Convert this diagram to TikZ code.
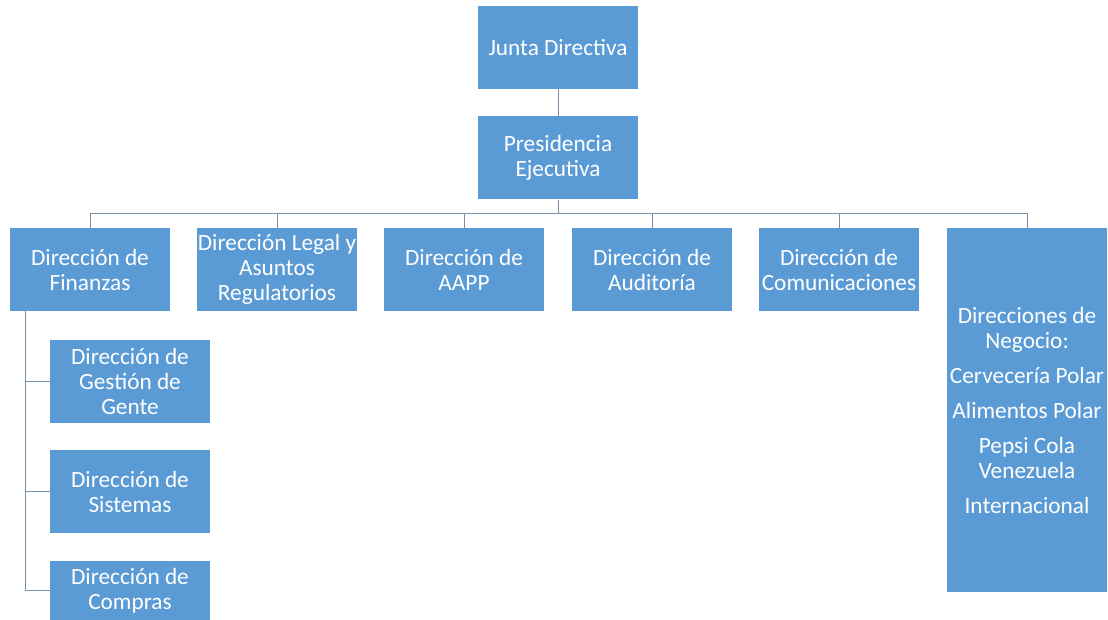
\documentclass[tikz,border=0pt]{standalone}
\usepackage{fontspec}
\setmainfont{Carlito}
\definecolor{boxblue}{HTML}{5B9BD5}
\definecolor{linkblue}{HTML}{7890B0}
\tikzset{
  orgbox/.style={fill=boxblue, text=white, inner sep=0pt, align=center,
    minimum width=160pt, minimum height=83pt, font=\fontsize{23.3}{25}\selectfont},
  link/.style={draw=linkblue, line width=1pt}
}
\begin{document}
\begin{tikzpicture}[x=1pt, y=-1pt]
    \useasboundingbox (0, 0) rectangle (1108, 620);

    \node[orgbox] (junta) at (558, 47.5) {Junta Directiva};
    \node[orgbox] (pres) at (558, 158) {Presidencia\\Ejecutiva};
    \node[orgbox] (fin) at (90, 269.5) {Dirección de\\Finanzas};
    \node[orgbox] (legal) at (277, 269.5) {Dirección Legal y\\Asuntos\\Regulatorios};
    \node[orgbox] (aapp) at (464, 269.5) {Dirección de\\AAPP};
    \node[orgbox] (audit) at (652, 269.5) {Dirección de\\Auditoría};
    \node[orgbox] (comu) at (839, 269.5) {Dirección de\\Comunicaciones};
    \node[orgbox, minimum height=364pt] (neg) at (1027, 410)
      {Direcciones de\\Negocio:\\[10pt]Cervecería Polar\\[10pt]Alimentos Polar\\[10pt]Pepsi Cola\\Venezuela\\[10pt]Internacional};
    \node[orgbox] (gest) at (130, 381) {Dirección de\\Gestión de\\Gente};
    \node[orgbox] (sist) at (130, 491.5) {Dirección de\\Sistemas};
    \node[orgbox, minimum height=59pt] (comp) at (130, 590.5) {Dirección de\\Compras};

    \coordinate (bus) at (558, 214);
    \coordinate (spine) at (25, 311);

    \draw[link] (junta) -- (pres);
    \draw[link] (pres) -- (bus);
    \foreach \n in {fin, legal, aapp, audit, comu, neg}
      \draw[link] (bus) -| (\n.north);
    \draw[link] (spine) |- (comp.west);
    \foreach \n in {gest, sist}
      \draw[link] (spine) |- (\n.west);

\end{tikzpicture}
\end{document}
